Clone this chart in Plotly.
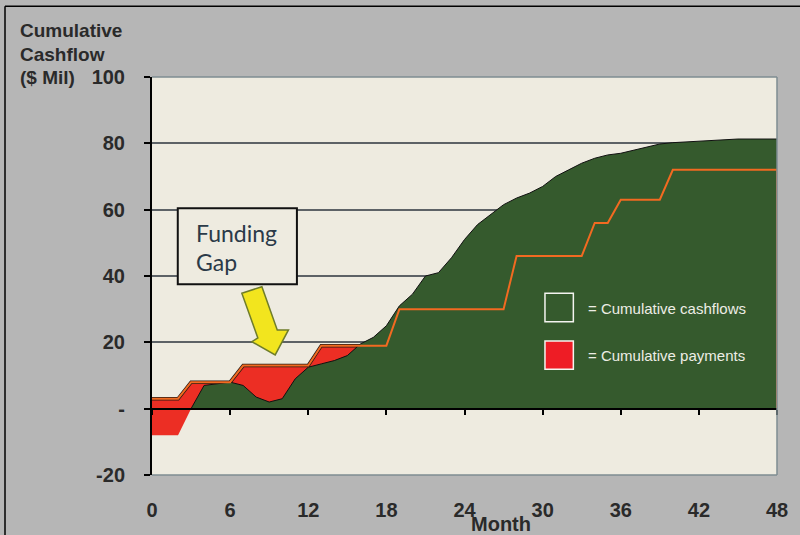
import plotly.graph_objects as go

# ---------------- data ----------------
months = list(range(0, 49))
payments = [3, 3, 3,
            8, 8, 8, 8,
            13, 13, 13, 13, 13, 13,
            19, 19, 19, 19, 19, 19,
            30, 30, 30, 30, 30, 30, 30, 30, 30,
            46, 46, 46, 46, 46, 46,
            56, 56,
            63, 63, 63, 63,
            72, 72, 72, 72, 72, 72, 72, 72, 72]
cashflows = [-8, -8, -8, 0, 7, 7.5, 8, 7, 3.5, 2, 3, 9, 12.5, 13.5, 14.5, 16,
             19.5, 21.5, 25, 31, 34.5, 40, 41, 45.5, 51, 55.5, 58.5, 61.5,
             63.5, 65, 67, 70, 72, 74, 75.5, 76.5, 77, 78, 79, 79.8, 80.2,
             80.4, 80.7, 81, 81.2, 81.3, 81.3, 81.3, 81.3]
x_ticks = list(range(0, 49, 6))
y_ticks = [-20, 0, 20, 40, 60, 80, 100]
y_ticktext = ["-20", "-", "20", "40", "60", "80", "100"]

# ---------------- styles ----------------
PAPER = "#B6B6B6"
PLOT_BG = "#EEEBE0"
GREEN = "#355A2D"
RED = "#EC2E24"
ORANGE = "#F26A21"
TEXT = "#2A2A2A"
FONT = "Liberation Sans, Arial, sans-serif"

cash_pos = [max(c, 0) for c in cashflows]
cash_neg = [min(c, 0) for c in cashflows]

fig = go.Figure()
fig.add_trace(go.Scatter(x=months, y=payments, mode="lines", fill="tozeroy",
                         fillcolor=RED, line=dict(color="#2B1A12", width=3.5),
                         hoverinfo="skip", showlegend=False))
fig.add_trace(go.Scatter(x=months, y=cash_neg, mode="lines", fill="tozeroy",
                         fillcolor=RED, line=dict(width=0, color=RED),
                         hoverinfo="skip", showlegend=False))
fig.add_trace(go.Scatter(x=months, y=cash_pos, mode="lines", fill="tozeroy",
                         fillcolor=GREEN, line=dict(color="#111111", width=1),
                         hoverinfo="skip", showlegend=False))
fig.add_trace(go.Scatter(x=months + [months[-1]], y=payments + [0], mode="lines",
                         xaxis="x2", yaxis="y",
                         line=dict(color=ORANGE, width=2),
                         hoverinfo="skip", showlegend=False))

fig.update_layout(
    width=800, height=535,
    margin=dict(l=152, r=23, t=77, b=60),
    paper_bgcolor=PAPER, plot_bgcolor=PLOT_BG,
    font=dict(family=FONT, color=TEXT),
    xaxis=dict(range=[0, 48], tickvals=x_ticks, ticks="", showline=False,
               showgrid=False, zeroline=False,
               tickfont=dict(size=20, color=TEXT, weight="bold"), ticklabelstandoff=21),
    xaxis2=dict(overlaying="x", anchor="free", position=1/6, range=[0, 48],
                tickvals=x_ticks, ticks="outside", ticklen=5, tickwidth=1.5,
                tickcolor="black", showticklabels=False, showline=True,
                linecolor="black", linewidth=2, showgrid=False, zeroline=False),
    yaxis=dict(range=[-20, 100], tickvals=y_ticks, ticktext=y_ticktext,
               ticks="outside", ticklen=6, tickwidth=1.5, tickcolor="black",
               showline=True, linecolor="black", linewidth=2,
               showgrid=True, gridcolor="#5D6266", gridwidth=1.5,
               zeroline=False, tickfont=dict(size=20, color=TEXT, weight="bold"),
               ticklabelstandoff=15),
)

shapes = []
# plot border (top, right, bottom)
for (x0, y0, x1, y1) in [(0, 1, 1, 1), (1, 0, 1, 1), (0, 0, 1, 0)]:
    shapes.append(dict(type="line", xref="paper", yref="paper", x0=x0, y0=y0,
                       x1=x1, y1=y1, line=dict(color="#7E8C92", width=1.5)))
# outer frame (top & left)
shapes.append(dict(type="line", xref="paper", yref="paper", x0=-0.2352, x1=1.04,
                   y0=1.178, y1=1.178, line=dict(color="black", width=1.5)))
shapes.append(dict(type="line", xref="paper", yref="paper", x0=-0.2352, x1=-0.2352,
                   y0=-0.16, y1=1.178, line=dict(color="black", width=1.5)))
# Funding gap box
shapes.append(dict(type="rect", xref="x", yref="y", x0=1.98, x1=11.13, y0=37.5,
                   y1=60.4, fillcolor=PLOT_BG, line=dict(color="#111111", width=2)))
# yellow arrow
shapes.append(dict(type="path", xref="x", yref="y",
                   path="M 6.90,34.79 L 8.44,36.78 L 9.62,23.73 L 10.48,23.73 "
                        "L 9.46,16.19 L 7.67,20.20 L 8.13,21.32 Z",
                   fillcolor="#F2E51E", line=dict(color="#6F7D2A", width=1.5)))
# legend boxes
shapes.append(dict(type="rect", xref="x", yref="y", x0=30.18, x1=32.36, y0=26.2,
                   y1=34.8, fillcolor=GREEN, line=dict(color="#F4F4F0", width=1.5)))
shapes.append(dict(type="rect", xref="x", yref="y", x0=30.18, x1=32.36, y0=11.9,
                   y1=20.4, fillcolor="#EE1C25", line=dict(color="#F4F4F0", width=1.5)))
fig.update_layout(shapes=shapes)

annotations = [
    dict(text="Cumulative", x=-0.2144, y=1.1156),
    dict(text="Cashflow", x=-0.2144, y=1.0553),
    dict(text="($ Mil)", x=-0.2144, y=0.9975),
]
for a in annotations:
    a.update(xref="paper", yref="paper", xanchor="left", yanchor="middle",
             showarrow=False, font=dict(size=19, color=TEXT, family=FONT, weight="bold"))
annotations.append(dict(text="Month", xref="paper", yref="paper", x=0.5584,
                        y=-0.1231, xanchor="center", yanchor="middle",
                        showarrow=False, font=dict(size=20, color=TEXT, family=FONT,
                                                   weight="bold")))
for txt, yv in [("Funding", 52.9), ("Gap", 44.2)]:
    annotations.append(dict(text=txt, xref="x", yref="y", x=3.23, y=yv,
                            xanchor="left", yanchor="middle", showarrow=False,
                            font=dict(size=23, color="#2B3A48", family="Lato, Open Sans, sans-serif")))
for txt, yv in [("= Cumulative cashflows", 30.27), ("= Cumulative payments", 15.9)]:
    annotations.append(dict(text=txt, xref="x", yref="y", x=33.3, y=yv,
                            xanchor="left", yanchor="middle", showarrow=False,
                            font=dict(size=15, color="#EDEDE5", family=FONT)))
fig.update_layout(annotations=annotations)

fig.write_html("out.html")
